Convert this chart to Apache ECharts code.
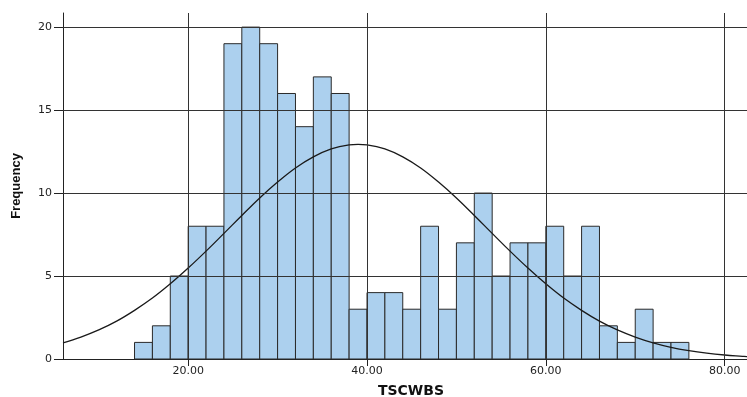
<!DOCTYPE html>
<html>
<head>
<meta charset="utf-8">
<script src="https://cdn.jsdelivr.net/npm/echarts@6/dist/echarts.min.js"></script>
<style>html,body{margin:0;padding:0;background:#fff;}#chart{width:747px;height:397px;}</style>
</head>
<body>
<div id="chart"></div>
<script>
// Histogram bins (TSCWBS), width 2
const binStarts = [14,16,18,20,22,24,26,28,30,32,34,36,38,40,42,44,46,48,50,52,54,56,58,60,62,64,66,68,70,72,74];
const binWidth = 2;
const frequencies = [1,2,5,8,8,19,20,19,16,14,17,16,3,4,4,3,8,3,7,10,5,7,7,8,5,8,2,1,3,1,1];
// Normal curve points
const curveX = [6,8,10,12,14,16,18,20,22,24,26,28,30,32,34,36,38,39,40,42,44,46,48,50,52,54,56,58,60,62,64,66,68,70,72,74,76,78,80,82,82.5];
const curveY = [0.97,1.32,1.75,2.28,2.93,3.67,4.53,5.48,6.50,7.57,8.65,9.70,10.66,11.51,12.18,12.66,12.90,12.93,12.90,12.66,12.18,11.51,10.66,9.70,8.65,7.57,6.50,5.48,4.53,3.67,2.93,2.28,1.75,1.32,0.97,0.70,0.50,0.35,0.24,0.16,0.14];
const xTicks = [20,40,60,80];
const yTicks = [0,5,10,15,20];

const barData = binStarts.map((s,i)=>[s, s+binWidth, frequencies[i]]);
const lineData = curveX.map((x,i)=>[x, curveY[i]]);

const chart = echarts.init(document.getElementById('chart'), null, {renderer:'canvas'});
const tickFont = 'DejaVu Sans, Liberation Sans, sans-serif';
const gridColor = '#333333';
chart.setOption({
  animation:false,
  backgroundColor:'#ffffff',
  grid:{left:63, right:0, top:13, bottom:38, containLabel:false, outerBoundsMode:'none'},
  xAxis:{
    type:'value', min:6, max:82.5,
    name:'TSCWBS', nameLocation:'middle', nameGap:25,
    nameTextStyle:{fontFamily:'DejaVu Sans, Liberation Sans, sans-serif', fontWeight:'bold', fontSize:14, color:'#111', padding:[0,0,0,12]},
    axisLine:{show:true, onZero:false, lineStyle:{color:'#222', width:1}},
    axisTick:{show:true, length:7, customValues:xTicks, lineStyle:{color:'#222'}},
    axisLabel:{customValues:xTicks, margin:7, fontFamily:tickFont, fontSize:11, color:'#222',
      formatter:v=>Number(v).toFixed(2)},
    splitLine:{show:false}
  },
  yAxis:{
    type:'value', min:0, max:20.85,
    name:'Frequency', nameLocation:'middle', nameGap:40, nameRotate:90,
    nameTextStyle:{fontFamily:'Liberation Sans Narrow, Liberation Sans, sans-serif', fontWeight:'bold', fontSize:13, color:'#111'},
    axisLine:{show:true, lineStyle:{color:'#222', width:1}},
    axisTick:{show:true, length:9, customValues:yTicks, lineStyle:{color:'#222'}},
    axisLabel:{customValues:yTicks, margin:11, fontFamily:tickFont, fontSize:11, color:'#222'},
    splitLine:{show:false}
  },
  series:[
    {
      type:'custom',
      data:barData,
      encode:{x:[0,1], y:2},
      renderItem:function(params, api){
        const p0 = api.coord([api.value(0), 0]);
        const p1 = api.coord([api.value(1), api.value(2)]);
        return {
          type:'rect',
          shape:{x:p0[0], y:p1[1], width:p1[0]-p0[0], height:p0[1]-p1[1]},
          style:{fill:'#acd0ee', stroke:'#2a2a2a', lineWidth:1}
        };
      },
      markLine:{
        silent:true, symbol:['none','none'], label:{show:false},
        lineStyle:{color:gridColor, width:1, type:'solid'},
        data: xTicks.map(v=>({xAxis:v})).concat(yTicks.filter(v=>v>0).map(v=>({yAxis:v})))
      },
      z:2
    },
    {
      type:'line',
      data:lineData,
      smooth:0.4,
      showSymbol:false,
      lineStyle:{color:'#1a1a1a', width:1.3},
      z:3
    }
  ]
});
</script>
</body>
</html>
